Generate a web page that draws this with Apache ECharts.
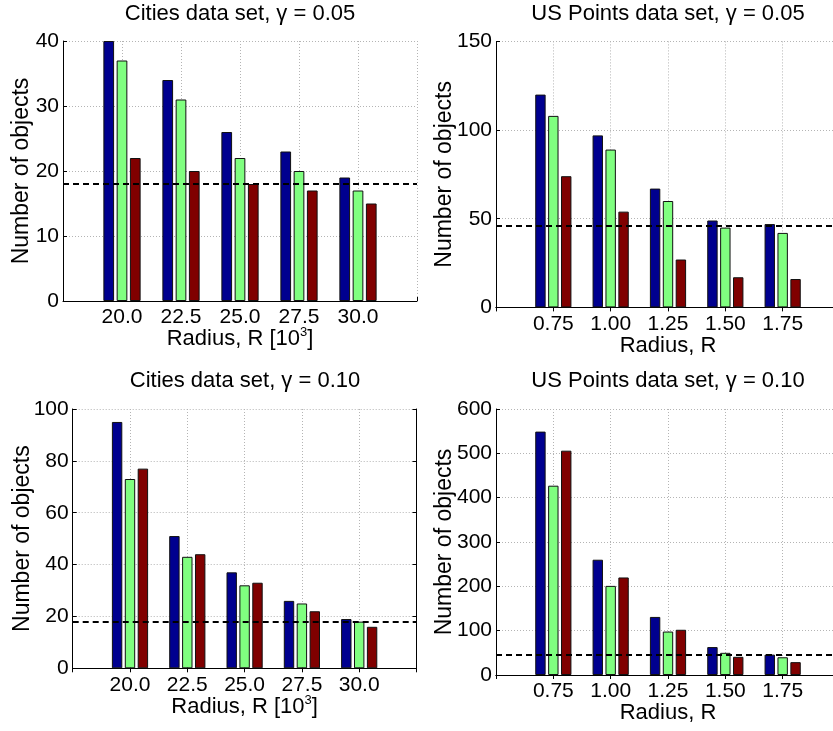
<!DOCTYPE html>
<html>
<head>
<meta charset="utf-8">
<script src="https://cdn.jsdelivr.net/npm/echarts@6/dist/echarts.min.js"></script>
<style>
html,body{margin:0;padding:0;background:#fff;}
#chart{width:833px;height:731px;}
</style>
</head>
<body>
<div id="chart"></div>
<script>
// ---- Data ----
const citiesRadius = ['20.0', '22.5', '25.0', '27.5', '30.0'];
const usRadius = ['0.75', '1.00', '1.25', '1.50', '1.75'];

const citiesG05_blue = [40, 34, 26, 23, 19];
const citiesG05_green = [37, 31, 22, 20, 17];
const citiesG05_red = [22, 20, 18, 17, 15];
const citiesG05_threshold = 18;

const usG05_blue = [120, 97, 67, 49, 47];
const usG05_green = [108, 89, 60, 45, 42];
const usG05_red = [74, 54, 27, 17, 16];
const usG05_threshold = 46;

const citiesG10_blue = [95, 51, 37, 26, 19];
const citiesG10_green = [73, 43, 32, 25, 18];
const citiesG10_red = [77, 44, 33, 22, 16];
const citiesG10_threshold = 18;

const usG10_blue = [549, 260, 131, 63, 46];
const usG10_green = [427, 201, 98, 50, 40];
const usG10_red = [506, 220, 102, 41, 29];
const usG10_threshold = 46;

const titles = [
  'Cities data set, \u03b3 = 0.05',
  'US Points data set, \u03b3 = 0.05',
  'Cities data set, \u03b3 = 0.10',
  'US Points data set, \u03b3 = 0.10'
];
const yName = 'Number of objects';
const xNameCities = '{n|Radius, R [10}{sup|3}{n|]}';
const xNameUS = '{n|Radius, R}';

const yTicks = [
  {min: 0, max: 40, interval: 10},
  {min: 0, max: 150, interval: 50},
  {min: 0, max: 100, interval: 20},
  {min: 0, max: 600, interval: 100}
];

// ---- Styles ----
const FONT = "'Liberation Sans', Arial, Helvetica, sans-serif";
const colors = ['#00008f', '#80ff80', '#800000'];

const panels = [
  {grid: {left: 63, top: 41, width: 354, height: 260}, cats: citiesRadius, xName: xNameCities,
   series: [citiesG05_blue, citiesG05_green, citiesG05_red], thr: citiesG05_threshold, box: false,
   title: {x: 240, y: 3}, nameGapY: 30, nameGapX: 25, barW: 10.7},
  {grid: {left: 496, top: 41.4, width: 344, height: 266}, cats: usRadius, xName: xNameUS,
   series: [usG05_blue, usG05_green, usG05_red], thr: usG05_threshold, box: true,
   title: {x: 668, y: 3}, nameGapY: 40, nameGapX: 26, barW: 10.4},
  {grid: {left: 72.7, top: 409, width: 343.8, height: 259.3}, cats: citiesRadius, xName: xNameCities,
   series: [citiesG10_blue, citiesG10_green, citiesG10_red], thr: citiesG10_threshold, box: true,
   title: {x: 245, y: 370}, nameGapY: 39, nameGapX: 26, barW: 10.4},
  {grid: {left: 496, top: 409, width: 344, height: 266}, cats: usRadius, xName: xNameUS,
   series: [usG10_blue, usG10_green, usG10_red], thr: usG10_threshold, box: true,
   title: {x: 668, y: 370}, nameGapY: 40, nameGapX: 25, barW: 10.4}
];

const option = {
  backgroundColor: '#fff',
  animation: false,
  textStyle: {fontFamily: FONT},
  title: [], grid: [], xAxis: [], yAxis: [], series: []
};

panels.forEach((p, i) => {
  option.title.push({
    text: titles[i], left: p.title.x, top: p.title.y, textAlign: 'center', padding: 0,
    textStyle: {fontFamily: FONT, fontSize: 22, fontWeight: 'normal', color: '#000'}
  });
  option.grid.push(Object.assign({containLabel: false, outerBoundsMode: 'none', show: false}, p.grid));
  const cats = [''].concat(p.cats, ['']);
  const xi = option.xAxis.length;
  option.xAxis.push({
    type: 'category', gridIndex: i, data: cats, boundaryGap: false, position: 'bottom',
    name: p.xName, nameLocation: 'middle', nameGap: p.nameGapX, nameMoveOverlap: false,
    nameTextStyle: {fontFamily: FONT, fontSize: 22, color: '#000',
      rich: {
        n: {fontFamily: FONT, fontSize: 22, color: '#000', lineHeight: 24, verticalAlign: 'bottom'},
        sup: {fontFamily: FONT, fontSize: 13, color: '#000', lineHeight: 12, verticalAlign: 'top'}
      }},
    axisLine: {show: true, lineStyle: {color: '#000', width: 1}},
    axisTick: {show: true, inside: true, length: 4, interval: 0, lineStyle: {color: '#000'}},
    axisLabel: {show: true, interval: 0, margin: 6, fontFamily: FONT, fontSize: 21, color: '#000'},
    splitLine: {show: true, interval: 0, lineStyle: {color: '#b4b4b4', type: [1, 2], width: 1}},
    z: 1
  });
  const yi = option.yAxis.length;
  option.yAxis.push({
    type: 'value', gridIndex: i, min: yTicks[i].min, max: yTicks[i].max, interval: yTicks[i].interval,
    position: 'left',
    name: yName, nameLocation: 'middle', nameGap: p.nameGapY, nameMoveOverlap: false,
    nameTextStyle: {fontFamily: FONT, fontSize: 23, color: '#000'},
    axisLine: {show: true, lineStyle: {color: '#000', width: 1}},
    axisTick: {show: true, inside: true, length: 4, lineStyle: {color: '#000'}},
    axisLabel: {show: true, margin: 4, fontFamily: FONT, fontSize: 21, color: '#000'},
    splitLine: {show: true, lineStyle: {color: '#b4b4b4', type: [1, 2], width: 1}},
    z: 1
  });
  if (p.box) {
    option.xAxis.push({
      type: 'category', gridIndex: i, data: cats, boundaryGap: false, position: 'top',
      axisLine: {show: true, lineStyle: {color: '#000', width: 1}},
      axisTick: {show: true, inside: true, length: 4, interval: 0, lineStyle: {color: '#000'}},
      axisLabel: {show: false}, splitLine: {show: false}, z: 2
    });
    option.yAxis.push({
      type: 'value', gridIndex: i, min: yTicks[i].min, max: yTicks[i].max, interval: yTicks[i].interval,
      position: 'right',
      axisLine: {show: true, lineStyle: {color: '#000', width: 1}},
      axisTick: {show: true, inside: true, length: 4, lineStyle: {color: '#000'}},
      axisLabel: {show: false}, splitLine: {show: false}, z: 2
    });
  }
  p.series.forEach((vals, k) => {
    const s = {
      type: 'bar', xAxisIndex: xi, yAxisIndex: yi,
      data: [null].concat(vals, [null]),
      barWidth: p.barW, barGap: '24%',
      itemStyle: {color: colors[k], borderColor: '#111', borderWidth: 1},
      z: 3
    };
    if (k === 2) {
      s.markLine = {
        silent: true, symbol: ['none', 'none'], label: {show: false},
        lineStyle: {color: '#000', type: [6, 4], width: 2},
        data: [{yAxis: p.thr}], z: 5
      };
    }
    option.series.push(s);
  });
});

const chart = echarts.init(document.getElementById('chart'), null, {renderer: 'canvas'});
chart.setOption(option);
</script>
</body>
</html>
